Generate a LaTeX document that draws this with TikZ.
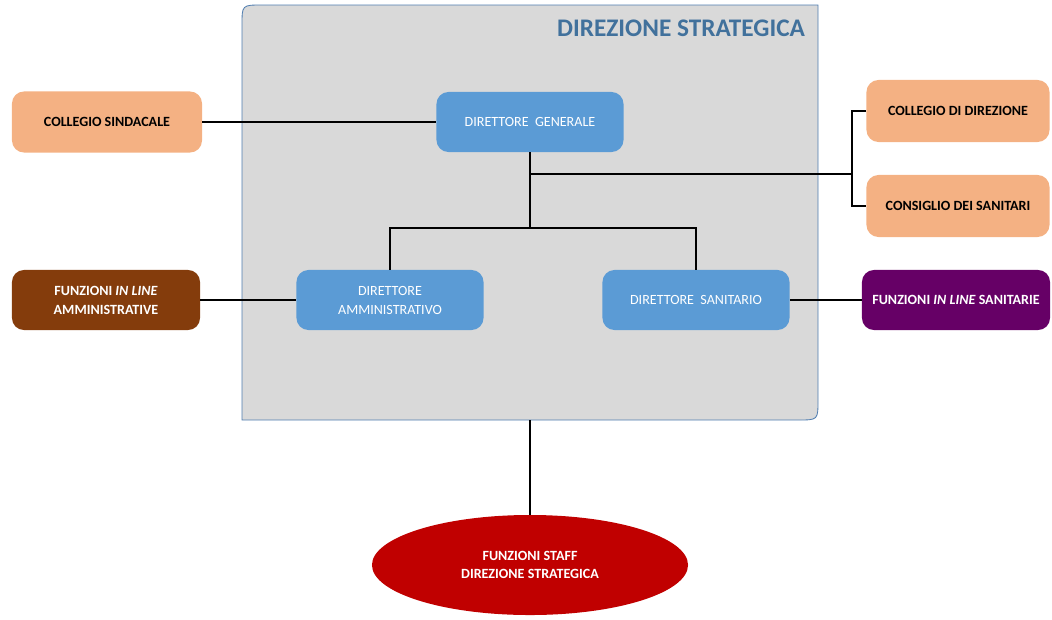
\documentclass[tikz,border=0pt]{standalone}
\usepackage{fontspec}
\setmainfont{Carlito}
\usepackage{xcolor}
\usepackage{tikz}
\usetikzlibrary{shapes.geometric}

\definecolor{stratfill}{HTML}{D9D9D9}
\definecolor{stratline}{HTML}{4F7DB0}
\definecolor{strattext}{HTML}{41719C}
\definecolor{dirblue}{HTML}{5B9BD5}
\definecolor{organge}{HTML}{F4B183}
\definecolor{admbrown}{HTML}{843C0C}
\definecolor{sanpurple}{HTML}{660066}
\definecolor{staffred}{HTML}{C00000}

\begin{document}
\begin{tikzpicture}[x=0.025cm, y=-0.025cm,
  frame/.style={draw=stratline, fill=stratfill, line width=0.6pt},
  director/.style={fill=dirblue, rounded corners=0.3cm, minimum width=4.675cm, minimum height=1.5cm, align=center, text=white, font=\fontsize{10}{13.5}\selectfont},
  organ/.style={fill=organge, rounded corners=0.3cm, minimum width=4.75cm, minimum height=1.525cm, align=center, font=\bfseries\fontsize{10}{13.5}\selectfont},
  inline/.style={rounded corners=0.3cm, minimum width=4.7cm, minimum height=1.5cm, align=center, text=white, font=\bfseries\fontsize{10}{13.5}\selectfont},
  staff/.style={ellipse, fill=staffred, minimum width=7.9cm, minimum height=2.5cm, align=center, text=white, font=\bfseries\fontsize{10}{12.5}\selectfont},
  link/.style={line width=1.3pt}
]
  \useasboundingbox (0,0) rectangle (1052,619);

  % direzione strategica
  \draw[frame] (242,420) -- (242,25) .. controls (242,5) .. (262,5) -- (818,5)
    -- (818,400) .. controls (818,420) .. (798,420) -- cycle;
  \node[anchor=east, text=strattext, font=\bfseries\fontsize{18}{20}\selectfont] (title) at (810,28) {DIREZIONE STRATEGICA};
  \coordinate (base) at (530,420);

  \node[director] (dg) at (530,122) {DIRETTORE\ \ GENERALE};
  \node[director] (da) at (390,300) {DIRETTORE\\AMMINISTRATIVO};
  \node[director] (ds) at (696,300) {DIRETTORE\ \ SANITARIO};

  \node[organ] (sind) at (107,122) {COLLEGIO SINDACALE};
  \node[organ, minimum width=4.575cm, minimum height=1.55cm] (cdir) at (958,111) {COLLEGIO DI DIREZIONE};
  \node[organ, minimum width=4.575cm, minimum height=1.55cm] (csan) at (958,206) {CONSIGLIO DEI SANITARI};

  \node[inline, fill=admbrown] (fadm) at (106,300) {FUNZIONI \textit{IN LINE}\\AMMINISTRATIVE};
  \node[inline, fill=sanpurple] (fsan) at (956,300) {FUNZIONI \textit{IN LINE} SANITARIE};

  \node[staff] (fstaff) at (530,565) {FUNZIONI STAFF\\DIREZIONE STRATEGICA};

  % collegamenti
  \coordinate (split) at (530,228);
  \coordinate (tap) at (530,174);
  \coordinate (bus) at (852,174);

  \draw[link] (sind) -- (dg);
  \draw[link] (dg.south) -- (split);
  \draw[link] (da.north) |- (split) -| (ds.north);
  \draw[link] (tap) -- (bus);
  \draw[link] (cdir.west) -| (bus) |- (csan.west);
  \draw[link] (fadm) -- (da);
  \draw[link] (ds) -- (fsan);
  \draw[link] (base) -- (fstaff.north);
\end{tikzpicture}
\end{document}
